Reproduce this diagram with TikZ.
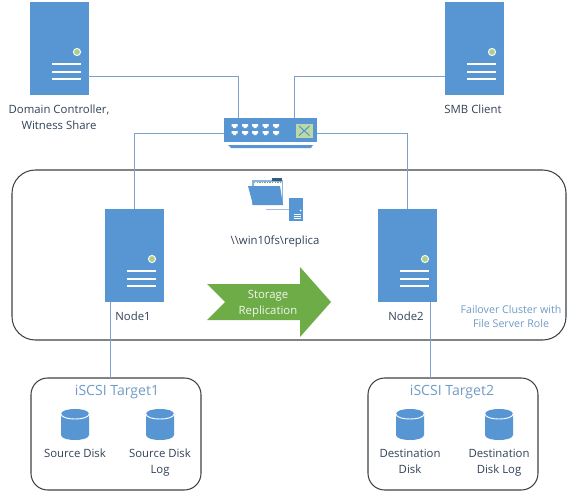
\documentclass[tikz,border=0pt]{standalone}
\usepackage{xcolor,fontspec}
\setmainfont{Open Sans}
\usetikzlibrary{arrows.meta,positioning,calc}
\definecolor{srvblue}{RGB}{87,150,211}
\definecolor{wire}{RGB}{125,160,205}
\definecolor{frameg}{RGB}{62,66,70}
\definecolor{ink}{RGB}{50,66,88}
\definecolor{pale}{RGB}{112,155,198}
\definecolor{leaf}{RGB}{110,172,72}
\definecolor{led}{RGB}{170,208,140}
\tikzset{
  server/.style={rectangle,fill=srvblue,anchor=north west,minimum width=17.5mm,minimum height=27.9mm,inner sep=0pt},
  conn/.style={draw=wire,line width=.75pt},
  frame/.style={draw=frameg,line width=.9pt,rounded corners=7mm},
  lab/.style={font=\fontsize{9.7}{13.6}\selectfont,text=ink,align=center,inner sep=0pt},
  note/.style={font=\fontsize{9.1}{12}\selectfont,text=pale,align=center,inner sep=0pt},
  title/.style={font=\fontsize{12}{13}\selectfont,text=pale,inner sep=0pt}
}
\begin{document}
\begin{tikzpicture}[x=.3mm,y=-.3mm]
  \useasboundingbox (0,0) rectangle (570,492);
  % frames
  \draw[frame] (12,170) rectangle (566,340);
  \draw[frame,rounded corners=5mm] (31,378) rectangle (201,490);
  \draw[frame,rounded corners=5mm] (368,378) rectangle (538,490);

  % servers
  \foreach \n/\x/\y in {dc/30/2,smb/445/2,node1/105/209,node2/378/209}{
    \node[server] (\n) at (\x,\y) {};
    \foreach \d in {62,70,77}{\draw[white,line width=1pt] ($(\x,\y)+(22,\d)$)--++(29,0);}
    \fill[led,draw=white,line width=.8pt] ($(\x,\y)+(47,50)$) circle (3.6);
  }

  % switch
  \node[rectangle,fill=srvblue,minimum width=27.9mm,minimum height=7.2mm,inner sep=0pt] (switch) at (270.5,130) {};
  \fill[srvblue] (228,145)--(313,145)--(311,148)--(231,148)--cycle;
  \foreach \c in {234.7,245,255,265.5,276}{
    \foreach \r in {126,133}{\fill[white] (\c-3,\r-2)--(\c+3,\r-2)--(\c+3,\r+.5)--(\c+1.5,\r+.5)--(\c+1.5,\r+2)--(\c-1.5,\r+2)--(\c-1.5,\r+.5)--(\c-3,\r+.5)--cycle;}
  }
  \fill[led!80!white] (296,123.5) rectangle (312.5,138);
  \draw[srvblue,line width=.9pt] (299,126)--(309.5,135.5) (309.5,126)--(299,135.5);
  \coordinate (swl) at (224,133);
  \coordinate (swr) at (317,133);
  \coordinate (swa) at (238,118);
  \coordinate (swb) at (294,118);

  % wires
  \coordinate (dcp) at (88,76);
  \coordinate (smbp) at (445,76);
  \draw[conn] (dcp)-|(swa);
  \draw[conn] (smbp)-|(swb);
  \draw[conn] (node1.north)|-(swl);
  \draw[conn] (node2.north)|-(swr);
  \coordinate (n1b) at (110,302);
  \coordinate (n2b) at (430,302);
  \coordinate (t1) at (110,378);
  \coordinate (t2) at (430,378);
  \draw[conn] (n1b)--(t1);
  \draw[conn] (n2b)--(t2);

  % share icon
  \fill[srvblue!70!white] (252,180)--(283,180)--(283,205)--(252,205)--cycle;
  \fill[white] (254,181.5) rectangle (282,204);
  \draw[led!75!black,line width=1.2pt,densely dotted] (254,182.5)--(281,182.5);
  \fill[srvblue!60!black] (272,177.5) rectangle (282,180.5);
  \fill[srvblue] (248,186)--(280,186)--(283,205)--(253,205)--cycle;
  \draw[wire!70!white,line width=.8pt] (266,209)--(289,209);
  \fill[srvblue] (289,198) rectangle (303,221);
  \draw[white,line width=.4pt] (294,214)--(301,214) (294,216)--(301,216) (294,218)--(301,218);
  \fill[white] (300.5,210.5) circle (1);
  \node[lab] (share) at (275,241.5) {\textbackslash\textbackslash win10fs\textbackslash replica};

  % arrow
  \fill[leaf] (207,284)--(300,284)--(300,267)--(331,302)--(300,337)--(300,320)--(207,320)--(225,302)--cycle;
  \node[lab,text=white!90!leaf] (repl) at (268,303.5) {Storage\\Replication};

  % disks
  \foreach \x in {75,160,410,499}{
    \fill[srvblue] (\x-14,414) .. controls (\x-14,407.3) and (\x+14,407.3) .. (\x+14,414)--(\x+14,435) .. controls (\x+14,441.7) and (\x-14,441.7) .. (\x-14,435)--cycle;
    \draw[white,line width=.8pt] (\x-14,414) .. controls (\x-14,420.7) and (\x+14,420.7) .. (\x+14,414);
  }

  % labels
  \node[lab] (dclab) at (59,117.5) {Domain Controller,\\Witness Share};
  \node[lab] (smblab) at (473,109) {SMB Client};
  \node[lab] (n1lab) at (133,316) {Node1};
  \node[lab] (n2lab) at (406,316) {Node2};
  \node[note] (role) at (511,316.5) {Failover Cluster with\\File Server Role};
  \node[title] (tg1) at (117,392.5) {iSCSI Target1};
  \node[title] (tg2) at (452,392.5) {iSCSI Target2};
  \node[lab,anchor=north] (l1) at (75,449) {Source Disk};
  \node[lab,anchor=north] (l2) at (160,449) {Source Disk\\Log};
  \node[lab,anchor=north] (l3) at (410,449) {Destination\\Disk};
  \node[lab,anchor=north] (l4) at (499,449) {Destination\\Disk Log};
\end{tikzpicture}
\end{document}
